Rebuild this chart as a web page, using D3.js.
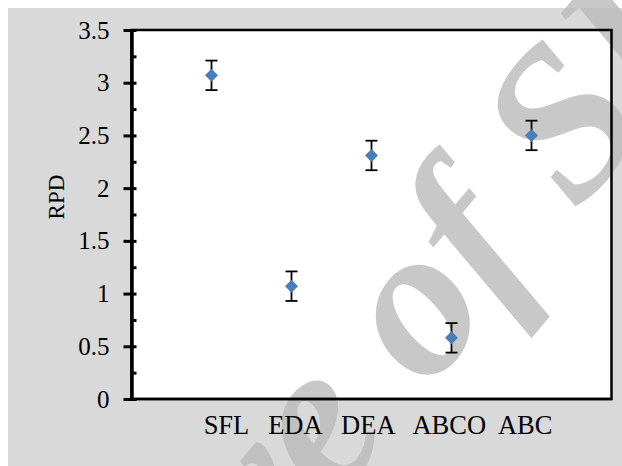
<!DOCTYPE html>
<html>
<head>
<meta charset="utf-8">
<script src="https://cdn.jsdelivr.net/npm/d3@7"></script>
<style>
  body { margin: 0; background: #fff; }
  text { font-family: "Liberation Serif", "Times New Roman", serif; }
</style>
</head>
<body>
<div id="chart"></div>
<script>

// data
var categories = ['SFL', 'EDA', 'DEA', 'ABCO', 'ABC'];
var xValues = [1, 2, 3, 4, 5];
var rpdValues = [3.07, 1.07, 2.31, 0.58, 2.50];
var rpdErrors = [0.14, 0.14, 0.14, 0.14, 0.14];
var yTicks = [0, 0.5, 1, 1.5, 2, 2.5, 3, 3.5];
var yMinorTicks = [0.25, 0.75, 1.25, 1.75, 2.25, 2.75, 3.25];
var yTitle = 'RPD';
var watermark = ['Archive', 'of SID'];

var createChart = () => {

  var width = 622,
      height = 466;

  var margin = {top: 30, right: 10.5, bottom: 67, left: 131.5};

  var svg = d3.select('#chart')
    .append('svg')
    .attr('width', width)
    .attr('height', height);

  // grey chart area
  svg.append('rect')
    .attr('x', 8)
    .attr('y', 8)
    .attr('width', width - 8)
    .attr('height', height - 8)
    .attr('fill', '#d9d9d9');

  var x = d3.scaleLinear()
    .domain([0, 6])
    .range([margin.left, width - margin.right]);

  var y = d3.scaleLinear()
    .domain([0, 3.5])
    .range([height - margin.bottom, margin.top]);

  // white plot area
  svg.append('rect')
    .attr('x', x(0))
    .attr('y', y(3.5))
    .attr('width', x(6) - x(0))
    .attr('height', y(0) - y(3.5))
    .attr('fill', '#fff');

  // watermark, big grey italic text going up to the right
  // (two pieces on one baseline so the "o" sits where it should)
  var fs = 215,
      angle = -50;
  var wm = svg.append('g')
    .attr('transform', 'translate(462,350) rotate(' + angle + ')')
    .attr('font-size', fs)
    .attr('font-style', 'italic')
    .attr('font-weight', 'bold')
    .attr('fill', '#b9b9b9')
    .attr('fill-opacity', 0.79);
  wm.append('text')
    .attr('x', -0.5 * fs)
    .attr('text-anchor', 'end')
    .text(watermark[0]);
  wm.append('text')
    .attr('x', -0.25 * fs)
    .attr('text-anchor', 'start')
    .text(watermark[1]);

  // plot border
  svg.append('rect')
    .attr('x', x(0))
    .attr('y', y(3.5))
    .attr('width', x(6) - x(0))
    .attr('height', y(0) - y(3.5))
    .attr('fill', 'none')
    .attr('stroke', '#000')
    .attr('stroke-width', 2.5);

  // minor ticks, inside only
  svg.append('g')
    .attr('transform', 'translate(' + x(0) + ',0)')
    .call(d3.axisLeft(y).tickValues(yMinorTicks).tickSize(-5).tickFormat(''))
    .call(g => g.select('.domain').remove())
    .call(g => g.selectAll('.tick line').attr('stroke-width', 3));

  // major ticks cross the axis line
  var yAxis = svg.append('g')
    .attr('transform', 'translate(' + x(0) + ',0)')
    .call(d3.axisLeft(y).tickValues(yTicks).tickSize(8).tickSizeOuter(0).tickPadding(14).tickFormat(d => d));

  yAxis.select('.domain')
    .attr('stroke-width', 3.5);

  yAxis.selectAll('.tick line')
    .attr('x1', 5)
    .attr('stroke-width', 3);

  yAxis.selectAll('.tick text')
    .attr('font-size', 25)
    .attr('fill', '#000')
    .style('font-family', '"Liberation Serif", serif');

  // bottom axis line
  svg.append('line')
    .attr('x1', x(0))
    .attr('x2', x(6))
    .attr('y1', y(0))
    .attr('y2', y(0))
    .attr('stroke', '#000')
    .attr('stroke-width', 2.5);

  // y title
  svg.append('text')
    .attr('transform', 'translate(64,197) rotate(-90)')
    .attr('text-anchor', 'middle')
    .attr('font-size', 23)
    .text(yTitle);

  // category names typed as one line under the plot
  svg.append('text')
    .attr('x', 378)
    .attr('y', 434)
    .attr('text-anchor', 'middle')
    .attr('font-size', 26.5)
    .attr('xml:space', 'preserve')
    .style('white-space', 'pre')
    .text(categories.slice(0, 4).join('   ') + '  ' + categories[4]);

  // error bars
  var bars = svg.selectAll('.err')
    .data(xValues)
    .enter()
    .append('g')
    .attr('class', 'err')
    .attr('stroke', '#000')
    .attr('stroke-width', 1.8);

  bars.append('line')
    .attr('x1', d => x(d))
    .attr('x2', d => x(d))
    .attr('y1', (d, i) => y(rpdValues[i] + rpdErrors[i]))
    .attr('y2', (d, i) => y(rpdValues[i] - rpdErrors[i]));

  bars.append('line')
    .attr('x1', d => x(d) - 6)
    .attr('x2', d => x(d) + 6)
    .attr('y1', (d, i) => y(rpdValues[i] + rpdErrors[i]))
    .attr('y2', (d, i) => y(rpdValues[i] + rpdErrors[i]));

  bars.append('line')
    .attr('x1', d => x(d) - 6)
    .attr('x2', d => x(d) + 6)
    .attr('y1', (d, i) => y(rpdValues[i] - rpdErrors[i]))
    .attr('y2', (d, i) => y(rpdValues[i] - rpdErrors[i]));

  // diamond markers
  svg.selectAll('.pt')
    .data(xValues)
    .enter()
    .append('path')
    .attr('class', 'pt')
    .attr('d', d3.symbol().type(d3.symbolSquare).size(85))
    .attr('transform', (d, i) => 'translate(' + x(d) + ',' + y(rpdValues[i]) + ') rotate(45)')
    .attr('fill', '#4a7ebb');
};

createChart();

</script>
</body>
</html>
